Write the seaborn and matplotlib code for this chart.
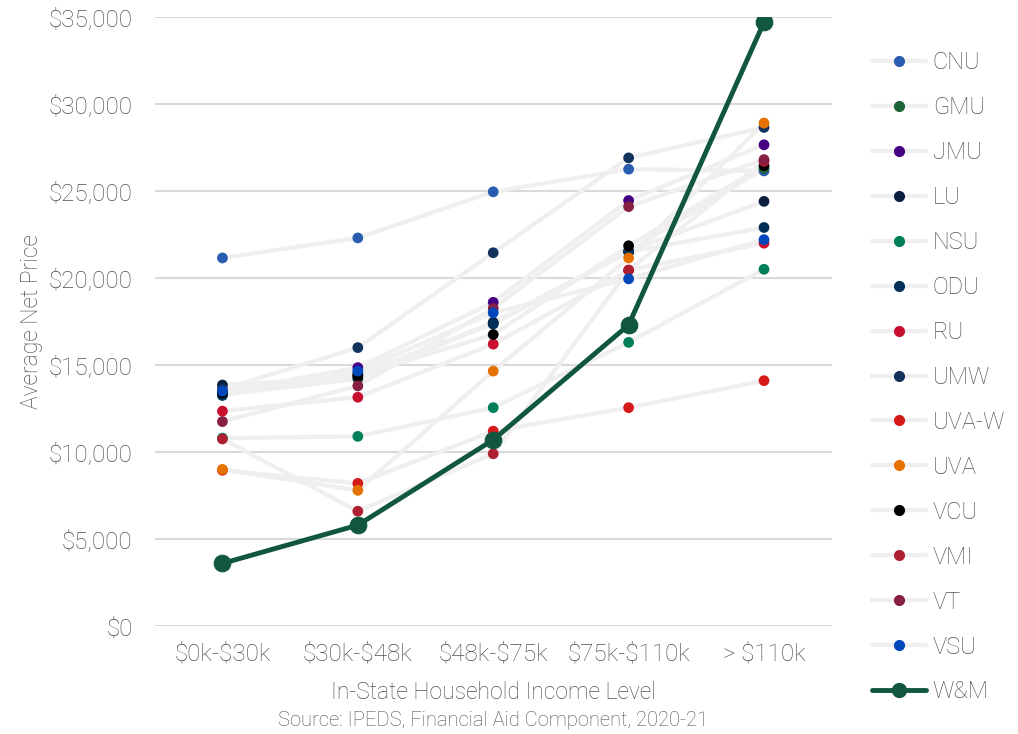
import matplotlib
matplotlib.use('Agg')
import numpy as np
import pandas as pd
import seaborn as sns
from matplotlib import pyplot as plt
from matplotlib.lines import Line2D

income_levels = ['$0k-$30k', '$30k-$48k', '$48k-$75k', '$75k-$110k', '> $110k']

schools = ['CNU', 'GMU', 'JMU', 'LU', 'NSU', 'ODU', 'RU', 'UMW',
           'UVA-W', 'UVA', 'VCU', 'VMI', 'VT', 'VSU', 'W&M']

cnu = [21150, 22300, 24950, 26250, 26150]
gmu = [13300, 14200, 17400, 21500, 26300]
jmu = [13450, 14850, 18600, 24450, 27650]
lu = [13850, 14300, 17450, 21550, 24400]
nsu = [10800, 10900, 12550, 16300, 20500]
odu = [13250, 14500, 17350, 21500, 22900]
ru = [12350, 13150, 16200, 20450, 22000]
umw = [13600, 16000, 21450, 26900, 28650]
uva_w = [8950, 8200, 11200, 12550, 14100]
uva = [9000, 7800, 14650, 21150, 28900]
vcu = [13400, 14400, 16750, 21850, 26450]
vmi = [10750, 6600, 9900, 20450, 26700]
vt = [11750, 13800, 18250, 24100, 26800]
vsu = [13500, 14650, 18000, 19950, 22200]
wm = [3600, 5800, 10700, 17300, 34700]

net_prices = [cnu, gmu, jmu, lu, nsu, odu, ru, umw, uva_w, uva, vcu, vmi, vt, vsu, wm]

school_colors = ['#2a5db0', '#1c6438', '#450084', '#0b1f41', '#00805a', '#003057',
                 '#c8102e', '#13335f', '#d61a1a', '#e57200', '#000000', '#ae1f32',
                 '#861f41', '#0047bb', '#115740']

rows = []
for school, values in zip(schools, net_prices):
    for level, value in zip(income_levels, values):
        rows.append({'school': school, 'income': level, 'net_price': value})
df = pd.DataFrame(rows)

text_grey = '#505050'
line_grey = '#efefef'

sns.set_style('white')
plt.rcParams['font.family'] = ['Roboto', 'DejaVu Sans']
plt.rcParams['font.weight'] = 'light'
plt.rcParams['axes.labelweight'] = 'light'

fig = plt.figure(figsize=(10.18, 7.34), dpi=100)
ax = fig.add_axes([0.152, 0.147, 0.665, 0.830])

others = df[df.school != 'W&M']
wm_df = df[df.school == 'W&M']

# grey connecting lines behind everything
sns.lineplot(data=others, x='income', y='net_price', units='school', estimator=None,
             color=line_grey, linewidth=3, sort=False, ax=ax, zorder=2)

# coloured dots per school
palette = dict(zip(schools, school_colors))
sns.scatterplot(data=others, x='income', y='net_price', hue='school', palette=palette,
                s=60, edgecolor='none', legend=False, ax=ax, zorder=3)

# W&M highlighted
sns.lineplot(data=wm_df, x='income', y='net_price', color=palette['W&M'], linewidth=3.5,
             marker='o', markersize=12, markeredgecolor=palette['W&M'], sort=False,
             ax=ax, zorder=4)

ax.set_xlim(-0.5, 4.5)
ax.set_ylim(0, 35000)
ax.set_xticks(range(len(income_levels)))
ax.set_xticklabels([lvl.replace('$', r'\$') for lvl in income_levels])
ax.set_yticks(np.arange(0, 35001, 5000))
ax.yaxis.set_major_formatter(matplotlib.ticker.FuncFormatter(lambda v, p: f'\\${v:,.0f}'))
ax.grid(axis='y', color='#d9d9d9', linewidth=1.5, zorder=0)
ax.set_axisbelow(True)
sns.despine(ax=ax, left=True, bottom=True)
ax.tick_params(axis='both', length=0, labelsize=17.5, colors=text_grey)
ax.tick_params(axis='x', pad=12)
ax.tick_params(axis='y', pad=16)

ax.set_xlabel('In-State Household Income Level', fontsize=16.5, color=text_grey, labelpad=11)
ax.set_ylabel('Average Net Price', fontsize=16.5, color=text_grey, labelpad=4)
fig.text(0.484, 0.019, 'Source: IPEDS, Financial Aid Component, 2020-21',
         ha='center', va='center', fontsize=14.5, color=text_grey)

handles = []
for school, color in zip(schools, school_colors):
    if school == 'W&M':
        handles.append(Line2D([], [], color=color, linewidth=3.5, marker='o',
                              markersize=10, markeredgecolor=color))
    else:
        handles.append(Line2D([], [], color=line_grey, linewidth=3, marker='o',
                              markersize=7, markerfacecolor=color, markeredgecolor=color))

leg = fig.legend(handles, schools, loc='center left', bbox_to_anchor=(0.857, 0.486),
                 frameon=False, fontsize=17, labelspacing=0.93, handlelength=2.25,
                 handletextpad=0.3, borderpad=0, borderaxespad=0)
for t in leg.get_texts():
    t.set_color(text_grey)

fig.savefig('out.png', dpi=100)
